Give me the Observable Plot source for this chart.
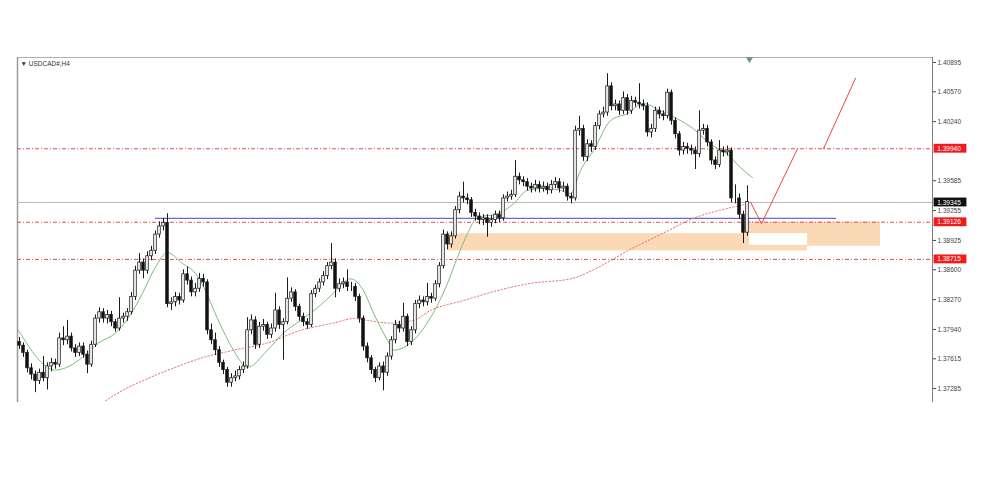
<!DOCTYPE html>
<html>
<head>
<meta charset="utf-8">
<script src="https://cdn.jsdelivr.net/npm/d3@7"></script>
<script src="https://cdn.jsdelivr.net/npm/@observablehq/plot@0.6"></script>
<style>
  html, body { margin: 0; padding: 0; background: #fff; }
  #chart { width: 1000px; height: 487px; }
</style>
</head>
<body>
<div id="chart"></div>
<script>
// ---- Data (USDCAD#, H4) ----
const symbolLabel = "▼ USDCAD#,H4";
const firstOpen = 1.3780;
const closes = [
  1.3776,1.3768,1.3751,1.3744,1.3737,1.3746,1.3740,1.3753,1.3757,1.3755,
  1.3784,1.3782,1.3786,1.3773,1.3768,1.3775,1.3766,1.3755,1.3777,1.3806,
  1.3813,1.3806,1.3810,1.3802,1.3795,1.3806,1.3808,1.3813,1.3830,1.3859,
  1.3868,1.3859,1.3875,1.3881,1.3899,1.3908,1.3912,1.3822,1.3824,1.3830,
  1.3826,1.3855,1.3848,1.3835,1.3839,1.3850,1.3846,1.3793,1.3782,1.3771,
  1.3757,1.3749,1.3735,1.3740,1.3742,1.3749,1.3753,1.3793,1.3804,1.3777,
  1.3797,1.3799,1.3788,1.3795,1.3815,1.3799,1.3802,1.3828,1.3835,1.3819,
  1.3808,1.3802,1.3799,1.3833,1.3839,1.3846,1.3853,1.3864,1.3868,1.3839,
  1.3844,1.3846,1.3841,1.3841,1.3830,1.3806,1.3775,1.3762,1.3749,1.3740,
  1.3753,1.3746,1.3764,1.3782,1.3799,1.3795,1.3808,1.3780,1.3793,1.3822,
  1.3826,1.3824,1.3830,1.3828,1.3844,1.3864,1.3899,1.3888,1.3897,1.3926,
  1.3941,1.3939,1.3937,1.3923,1.3919,1.3915,1.3917,1.3912,1.3915,1.3921,
  1.3917,1.3939,1.3941,1.3943,1.3963,1.3959,1.3957,1.3952,1.3950,1.3954,
  1.3950,1.3952,1.3948,1.3954,1.3957,1.3950,1.3952,1.3941,1.3939,1.4014,
  1.4016,1.3985,1.3999,1.3996,1.4019,1.4032,1.4034,1.4063,1.4041,1.4043,
  1.4036,1.4050,1.4036,1.4047,1.4045,1.4043,1.4041,1.4012,1.4016,1.4036,
  1.4032,1.4030,1.4056,1.4025,1.4010,1.3992,1.3996,1.3994,1.3992,1.3988,
  1.4014,1.4016,1.4001,1.3981,1.3976,1.3992,1.3990,1.3992,1.3939,1.3939,
  1.3921,1.3901,1.3935
];
const highs = [
  1.3785,1.3779,1.3771,1.3756,1.3748,1.3750,1.3764,1.3757,1.3762,1.3761,
  1.3790,1.3797,1.3804,1.3790,1.3777,1.3779,1.3779,1.3770,1.3781,1.3810,
  1.3818,1.3817,1.3815,1.3814,1.3805,1.3829,1.3812,1.3817,1.3835,1.3864,
  1.3878,1.3872,1.3880,1.3886,1.3903,1.3913,1.3917,1.3922,1.3829,1.3835,
  1.3834,1.3860,1.3863,1.3852,1.3845,1.3856,1.3855,1.3849,1.3800,1.3790,
  1.3775,1.3760,1.3752,1.3745,1.3748,1.3753,1.3758,1.3807,1.3810,1.3808,
  1.3802,1.3805,1.3802,1.3800,1.3834,1.3819,1.3806,1.3851,1.3840,1.3838,
  1.3822,1.3812,1.3806,1.3837,1.3843,1.3850,1.3858,1.3868,1.3889,1.3872,
  1.3850,1.3851,1.3860,1.3846,1.3845,1.3833,1.3809,1.3779,1.3765,1.3752,
  1.3757,1.3758,1.3768,1.3786,1.3804,1.3803,1.3823,1.3811,1.3797,1.3826,
  1.3831,1.3830,1.3845,1.3834,1.3848,1.3868,1.3904,1.3902,1.3902,1.3930,
  1.3946,1.3957,1.3944,1.3940,1.3927,1.3923,1.3921,1.3921,1.3920,1.3925,
  1.3925,1.3943,1.3946,1.3948,1.3981,1.3967,1.3963,1.3961,1.3956,1.3959,
  1.3958,1.3957,1.3956,1.3959,1.3962,1.3961,1.3957,1.3955,1.3945,1.4019,
  1.4030,1.4020,1.4004,1.4003,1.4023,1.4036,1.4040,1.4077,1.4067,1.4048,
  1.4047,1.4057,1.4054,1.4052,1.4051,1.4066,1.4048,1.4045,1.4021,1.4040,
  1.4040,1.4036,1.4060,1.4059,1.4028,1.4013,1.4001,1.4000,1.3998,1.3996,
  1.4036,1.4021,1.4020,1.4004,1.3985,1.4003,1.3996,1.3997,1.3995,1.3954,
  1.3944,1.3925,1.3953
];
const lows = [
  1.3772,1.3763,1.3746,1.3738,1.3724,1.3733,1.3736,1.3727,1.3747,1.3750,
  1.3752,1.3776,1.3777,1.3769,1.3763,1.3764,1.3762,1.3745,1.3752,1.3774,
  1.3801,1.3801,1.3800,1.3797,1.3791,1.3792,1.3801,1.3803,1.3810,1.3826,
  1.3855,1.3850,1.3855,1.3870,1.3877,1.3895,1.3903,1.3818,1.3815,1.3819,
  1.3821,1.3823,1.3843,1.3830,1.3830,1.3835,1.3841,1.3788,1.3777,1.3765,
  1.3752,1.3744,1.3730,1.3730,1.3736,1.3738,1.3745,1.3750,1.3788,1.3772,
  1.3773,1.3792,1.3783,1.3784,1.3791,1.3794,1.3760,1.3799,1.3824,1.3814,
  1.3803,1.3797,1.3794,1.3796,1.3829,1.3835,1.3842,1.3849,1.3860,1.3829,
  1.3835,1.3839,1.3836,1.3836,1.3825,1.3801,1.3770,1.3757,1.3744,1.3735,
  1.3737,1.3726,1.3742,1.3760,1.3778,1.3790,1.3791,1.3775,1.3776,1.3789,
  1.3817,1.3819,1.3820,1.3823,1.3825,1.3840,1.3861,1.3882,1.3884,1.3894,
  1.3922,1.3934,1.3932,1.3918,1.3914,1.3910,1.3909,1.3896,1.3907,1.3911,
  1.3912,1.3914,1.3935,1.3937,1.3940,1.3954,1.3952,1.3947,1.3945,1.3946,
  1.3945,1.3946,1.3943,1.3944,1.3950,1.3945,1.3946,1.3936,1.3933,1.3936,
  1.4008,1.3980,1.3980,1.3990,1.3992,1.4015,1.4028,1.4030,1.4036,1.4036,
  1.4031,1.4032,1.4031,1.4032,1.4040,1.4038,1.4036,1.4007,1.4006,1.4012,
  1.4027,1.4025,1.4027,1.4020,1.4005,1.3986,1.3987,1.3988,1.3987,1.3971,
  1.3984,1.4009,1.3996,1.3976,1.3971,1.3973,1.3985,1.3986,1.3934,1.3933,
  1.3916,1.3889,1.3897
];

// Fast moving average (green): [bar, price]
const fastMA = [
  [-0.25,1.3793],[9,1.3749],[15.75,1.3763],[19.75,1.3779],[24,1.3790],[27.25,1.3807],
  [30.75,1.3834],[34,1.3863],[37,1.3879],[40.75,1.3867],[44,1.3856],[46.25,1.3839],
  [49.5,1.3806],[53.5,1.3771],[57,1.3752],[62,1.3771],[66,1.3790],[70.25,1.3804],
  [74.5,1.3818],[78.5,1.3834],[82.75,1.3850],[86,1.3837],[88.5,1.3812],[92,1.3782],
  [93.5,1.3771],[98.5,1.3782],[102.75,1.3807],[107,1.3845],[109.5,1.3874],[112,1.3900],
  [114.5,1.3918],[119.5,1.3922],[123.5,1.3933],[127,1.3948],[131.5,1.3950],[135.25,1.3948],
  [137.75,1.3944],[140.25,1.3970],[143.5,1.3992],[147.75,1.4025],[152,1.4033],[156,1.4044],
  [160.25,1.4036],[164.5,1.4027],[168.5,1.4016],[172.75,1.3999],[177,1.3988],[180.25,1.3973],
  [183.25,1.3962]
];
// Slow moving average (red dotted): [bar, price]
const slowMA = [
  [21.5,1.3715],[24,1.3722],[32.25,1.3740],[40.75,1.3755],[45.25,1.3762],[53.5,1.3771],
  [62,1.3779],[70.25,1.3793],[78.5,1.3801],[83.5,1.3806],[87,1.3804],[92.75,1.3801],
  [98.5,1.3804],[102.75,1.3815],[111,1.3826],[119.5,1.3837],[127.75,1.3845],[137.75,1.3850],
  [145.25,1.3864],[152,1.3881],[160.25,1.3899],[168.5,1.3917],[177,1.3928],[181,1.3932]
];

// Horizontal levels
const dashLevels = [1.39940, 1.39126, 1.38715];
const currentPrice = 1.39345;
const blueLevel = {price: 1.3917, from: 34, to: 204.25};

// Zones: [fromBar, toBar, bottom, top, colour]
const zones = [
  {x1: 107.25, x2: 197, y1: 1.3881, y2: 1.3900, fill: "#fcd9b6"},
  {x1: 181, x2: 215.25, y1: 1.3886, y2: 1.3913, fill: "#fcd9b6"},
  {x1: 182.5, x2: 197, y1: 1.3887, y2: 1.3900, fill: "#ffffff"}
];

// Projected path
const projection1 = [[182.75,1.3935],[185.5,1.3911],[194.5,1.3994]];
const projection2 = [[201,1.3994],[209,1.4072]];

// Right axis ticks and price tags
const yTicks = [1.40895,1.40570,1.40240,1.39585,1.39255,1.38925,1.38600,1.38270,1.37940,1.37615,1.37285];
const priceTags = [
  {value: 1.39940, color: "#ee1c1c"},
  {value: 1.39345, color: "#111111"},
  {value: 1.39126, color: "#ee1c1c"},
  {value: 1.38715, color: "#ee1c1c"}
];

// ---- Build candle table ----
const candles = closes.map((c, i) => ({
  i,
  open: i === 0 ? firstOpen : closes[i - 1],
  close: c,
  high: highs[i],
  low: lows[i]
}));

const fmt = d3.format(".5f");
const xMin = -0.5;
const xMax = 228.25;
const yMin = 1.37131;
const yMax = 1.40950;

const chart = Plot.plot({
  width: 1000,
  height: 487,
  marginLeft: 17,
  marginRight: 68,
  marginTop: 57,
  marginBottom: 85,
  x: {domain: [xMin, xMax], axis: null},
  y: {domain: [yMin, yMax], axis: null},
  style: {background: "#ffffff", fontFamily: "'Liberation Sans', Arial, sans-serif"},
  marks: [
    Plot.ruleY([yMax], {stroke: "#b0b0b0", strokeWidth: 1}),
    Plot.ruleX([xMin], {stroke: "#9a9a9a", strokeWidth: 1.5}),
    Plot.rect(zones, {x1: "x1", x2: "x2", y1: "y1", y2: "y2", fill: "fill"}),
    Plot.ruleY([currentPrice], {stroke: "#b8b8b8", strokeWidth: 1}),
    Plot.ruleY(dashLevels, {stroke: "#e05050", strokeWidth: 1, strokeDasharray: "4,2,1,2"}),
    Plot.ruleY([blueLevel], {y: "price", x1: "from", x2: "to", stroke: "#6a6ad8", strokeWidth: 1.2}),
    Plot.line(slowMA, {x: d => d[0], y: d => d[1], stroke: "#e57373", strokeWidth: 1, strokeDasharray: "1.5,2", curve: "monotone-x"}),
    Plot.line(fastMA, {x: d => d[0], y: d => d[1], stroke: "#7dbb7d", strokeWidth: 1, curve: "monotone-x"}),
    Plot.ruleX(candles, {x: "i", y1: "low", y2: "high", stroke: "#1a1a1a", strokeWidth: 1}),
    Plot.rect(candles, {
      x1: d => d.i - 0.32, x2: d => d.i + 0.32,
      y1: "open", y2: "close",
      fill: d => d.close >= d.open ? "#ffffff" : "#111111",
      stroke: "#1a1a1a", strokeWidth: 0.8
    }),
    Plot.line(projection1, {x: d => d[0], y: d => d[1], stroke: "#ee4444", strokeWidth: 1}),
    Plot.line(projection2, {x: d => d[0], y: d => d[1], stroke: "#ee4444", strokeWidth: 1}),
    Plot.ruleX([xMax], {stroke: "#808080", strokeWidth: 1}),
    Plot.axisY(yTicks, {anchor: "right", tickFormat: fmt, tickSize: 3, tickPadding: 2, fontSize: 6.5, color: "#444"}),
    Plot.rect(priceTags, {x1: xMax + 0.4, x2: xMax + 8.6, y1: d => d.value - 0.00049, y2: d => d.value + 0.00049, fill: "color", clip: false}),
    Plot.text(priceTags, {x: xMax + 1.2, y: "value", text: d => fmt(d.value), fill: "#ffffff", textAnchor: "start", fontSize: 6.5}),
    Plot.dot([0], {x: 182.5, y: 1.4093, symbol: "triangle", r: 2.6, rotate: 180, fill: "#6f8f8f", stroke: "none"}),
    Plot.text([symbolLabel], {frameAnchor: "top-left", dx: 3, dy: 4, fontSize: 6.5, fill: "#333", textAnchor: "start"})
  ]
});
document.getElementById("chart").appendChild(chart);
</script>
</body>
</html>
